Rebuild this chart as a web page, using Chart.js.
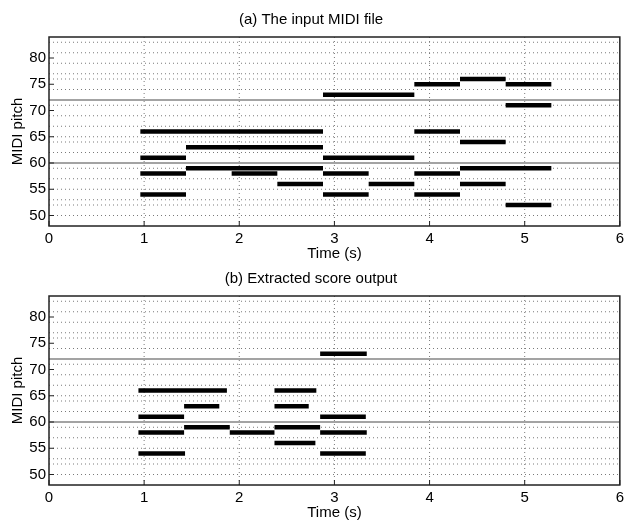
<!DOCTYPE html>
<html>
<head>
<meta charset="utf-8">
<title>MIDI piano roll</title>
<script src="https://cdn.jsdelivr.net/npm/chart.js@4.4.1/dist/chart.umd.min.js"></script>
<style>
  html, body { margin: 0; padding: 0; background: #fff; }
  #wrap { position: relative; width: 628px; height: 523px; }
  canvas { position: absolute; left: 0; }
</style>
</head>
<body>
<div id="wrap">
  <canvas id="roll-a" width="628" height="261" style="top:0"></canvas>
  <canvas id="roll-b" width="628" height="261" style="top:259px"></canvas>
</div>
<script>
// (a) input MIDI notes: pitch, onset (s), offset (s)
const pitchA = [66, 63, 61, 59, 58, 58, 56, 54, 76, 75, 75, 73, 71, 66, 64, 61, 59, 58, 58, 56, 56, 54, 54, 52];
const startA = [0.96, 1.44, 0.96, 1.44, 0.96, 1.92, 2.40, 0.96, 4.32, 3.84, 4.80, 2.88, 4.80, 3.84, 4.32, 2.88, 4.32, 2.88, 3.84, 3.36, 4.32, 2.88, 3.84, 4.80];
const endA   = [2.88, 2.88, 1.44, 2.88, 1.44, 2.40, 2.88, 1.44, 4.80, 4.32, 5.28, 3.84, 5.28, 4.32, 4.80, 3.84, 5.28, 3.36, 4.32, 3.84, 4.80, 3.36, 4.32, 5.28];

// (b) notes recovered from the score
const pitchB = [66, 63, 61, 59, 58, 58, 54, 66, 63, 59, 56, 73, 61, 58, 54];
const startB = [0.94, 1.42, 0.94, 1.42, 0.94, 1.90, 0.94, 2.37, 2.37, 2.37, 2.37, 2.85, 2.85, 2.85, 2.85];
const endB   = [1.87, 1.79, 1.42, 1.90, 1.42, 2.37, 1.43, 2.81, 2.73, 2.85, 2.80, 3.34, 3.33, 3.34, 3.33];

// axes
const xTicks = [0, 1, 2, 3, 4, 5, 6];
const yTicks = [50, 55, 60, 65, 70, 75, 80];
const xGrid = [1, 2, 3, 4, 5];
const keyLines = [50, 52, 53, 55, 57, 59, 62, 64, 65, 67, 69, 71, 74, 76, 77, 79, 81, 83]; // white keys, dotted
const octaveLines = [60, 72]; // C4, C5, solid

const FONT = '"Liberation Sans", Arial, Helvetica, sans-serif';

function noteDatasets(pitch, start, end) {
  return pitch.map((p, i) => ({
    data: [{ x: start[i], y: p }, { x: end[i], y: p }],
    borderColor: '#000', borderWidth: 4.3, borderCapStyle: 'butt',
    pointRadius: 0, pointHoverRadius: 0, fill: false, tension: 0
  }));
}

function seg(ctx, x1, y1, x2, y2) {
  ctx.beginPath(); ctx.moveTo(x1, y1); ctx.lineTo(x2, y2); ctx.stroke();
}

// key lines under the notes, frame + inward ticks on top
const rollGrid = {
  id: 'rollGrid',
  beforeDatasetsDraw(chart) {
    const { ctx, chartArea: a, scales: { x, y } } = chart;
    ctx.save();
    ctx.lineWidth = 1;
    ctx.strokeStyle = '#7a7a7a';
    ctx.setLineDash([1, 3]);
    keyLines.forEach(p => { const py = y.getPixelForValue(p); seg(ctx, a.left, py, a.right, py); });
    xGrid.forEach(t => { const px = x.getPixelForValue(t); seg(ctx, px, a.top, px, a.bottom); });
    ctx.setLineDash([]);
    ctx.strokeStyle = '#858585';
    ctx.lineWidth = 1.6;
    octaveLines.forEach(p => { const py = y.getPixelForValue(p); seg(ctx, a.left, py, a.right, py); });
    ctx.restore();
  },
  afterDatasetsDraw(chart) {
    const { ctx, chartArea: a, scales: { x, y } } = chart;
    ctx.save();
    ctx.strokeStyle = '#222';
    ctx.lineWidth = 1;
    yTicks.forEach(v => { const py = y.getPixelForValue(v); seg(ctx, a.left, py, a.left + 5, py); });
    xTicks.forEach(v => { const px = x.getPixelForValue(v); seg(ctx, px, a.bottom, px, a.bottom - 5); });
    ctx.lineWidth = 1.5;
    ctx.strokeRect(a.left, a.top, a.right - a.left, a.bottom - a.top);
    ctx.restore();
  }
};

function pianoRoll(id, title, pitch, start, end) {
  const font = { family: FONT, size: 15, weight: 'normal' };
  return new Chart(document.getElementById(id), {
    type: 'line',
    data: { datasets: noteDatasets(pitch, start, end) },
    plugins: [rollGrid],
    options: {
      responsive: false, animation: false, devicePixelRatio: 1,
      layout: { padding: { left: 0, right: 6, top: 0, bottom: 0 } },
      plugins: {
        legend: { display: false },
        tooltip: { enabled: false },
        title: {
          display: true, text: title, color: '#000',
          font: { ...font, lineHeight: 1.2 },
          padding: { top: 10.5, bottom: 8.5 }
        }
      },
      scales: {
        x: {
          type: 'linear', min: 0, max: 6,
          afterBuildTicks: s => { s.ticks = xTicks.map(v => ({ value: v })); },
          afterFit: s => { s.height = 35; },
          grid: { display: false, drawTicks: false },
          border: { display: false },
          ticks: { color: '#000', font, padding: 4, maxRotation: 0, autoSkip: false },
          title: { display: true, text: 'Time (s)', color: '#000', font: { ...font, lineHeight: 1 }, padding: 0 }
        },
        y: {
          type: 'linear', min: 48, max: 84,
          afterBuildTicks: s => { s.ticks = yTicks.map(v => ({ value: v })); },
          afterFit: s => { s.width = 49; },
          grid: { display: false, drawTicks: false },
          border: { display: false },
          ticks: { color: '#000', font, padding: 3, autoSkip: false },
          title: { display: true, text: 'MIDI pitch', color: '#000', font: { ...font, lineHeight: 1 }, padding: { top: 10.5, bottom: 0 } }
        }
      }
    }
  });
}

pianoRoll('roll-a', '(a) The input MIDI file', pitchA, startA, endA);
pianoRoll('roll-b', '(b) Extracted score output', pitchB, startB, endB);
</script>
</body>
</html>
